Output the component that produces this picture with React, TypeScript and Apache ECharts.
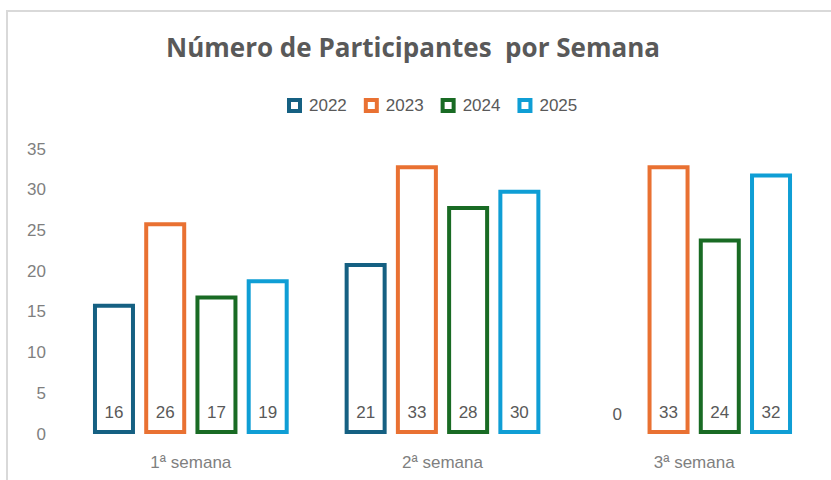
import React, { useEffect, useRef } from "react";
import * as echarts from "echarts";

const categories = ["1ª semana", "2ª semana", "3ª semana"];
const seriesNames = ["2022", "2023", "2024", "2025"];
const values2022 = [16, 21, 0];
const values2023 = [26, 33, 33];
const values2024 = [17, 28, 24];
const values2025 = [19, 30, 32];
const yTicks = { min: 0, max: 35, interval: 5 };
const colors = ["#156082", "#E97132", "#196B24", "#0F9ED5"];

export default function App() {
  const ref = useRef<HTMLDivElement>(null);
  useEffect(() => {
    if (!ref.current) return;
    const chart = echarts.init(ref.current, null, { renderer: "svg" });
    const all = [values2022, values2023, values2024, values2025];
    const series = all.map((vals, i) => ({
      name: seriesNames[i],
      type: "bar",
      barWidth: 42,
      barGap: "22%",
      data: vals.map((v) =>
        v === 0
          ? { value: v, itemStyle: { borderColor: "rgba(0,0,0,0)" } }
          : v
      ),
      itemStyle: { color: "#ffffff", borderColor: colors[i], borderWidth: 4 },
      label: {
        show: true,
        position: "insideBottom",
        distance: 13,
        color: "#595959",
        fontSize: 17,
        fontFamily: "Liberation Sans",
      },
    }));
    chart.setOption({
      animation: false,
      color: colors,
      title: {
        text: "Número de Participantes  por Semana",
        left: 408,
        textAlign: "center",
        top: 29,
        textStyle: {
          fontFamily: "Open Sans",
          fontWeight: "bold",
          fontSize: 26,
          color: "#595959",
        },
      },
      legend: {
        top: 92,
        left: 282,
        itemWidth: 11,
        itemHeight: 11,
        itemGap: 17,
        icon: "rect",
        itemStyle: { borderWidth: 4 },
        textStyle: {
          fontFamily: "Liberation Sans",
          fontSize: 17,
          color: "#595959",
          padding: [0, 0, 0, 4],
        },
        data: seriesNames,
      },
      grid: { left: 65, right: 11, top: 149, bottom: 46 },
      xAxis: {
        type: "category",
        data: categories,
        axisLine: { show: false },
        axisTick: { show: false },
        axisLabel: {
          margin: 20,
          color: "#7f7f7f",
          fontSize: 17,
          fontFamily: "Liberation Sans",
        },
      },
      yAxis: {
        type: "value",
        min: yTicks.min,
        max: yTicks.max,
        interval: yTicks.interval,
        splitLine: { show: false },
        axisLine: { show: false },
        axisTick: { show: false },
        axisLabel: {
          margin: 19,
          color: "#7f7f7f",
          fontSize: 17,
          fontFamily: "Liberation Sans",
        },
      },
      graphic: [
        {
          type: "rect",
          shape: { x: 7, y: 11, width: 840, height: 480 },
          style: { fill: "none", stroke: "#d9d9d9", lineWidth: 2 },
          silent: true,
        },
      ],
      series,
    });
    return () => chart.dispose();
  }, []);
  return (
    <div
      ref={ref}
      style={{ position: "fixed", left: 0, top: 0, width: 831, height: 480, background: "#fff" }}
    />
  );
}
